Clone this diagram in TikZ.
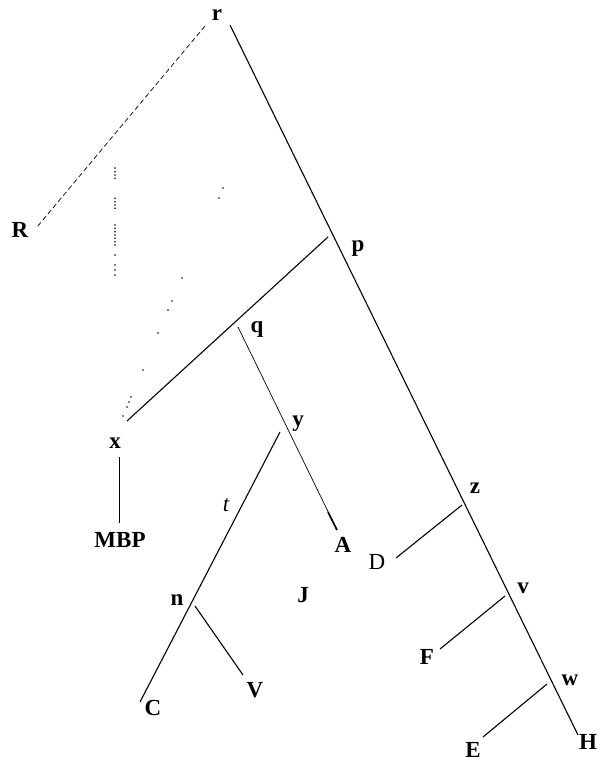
\documentclass[tikz,border=0pt]{standalone}
\usepackage{fontspec}
\setmainfont{Liberation Serif}
\begin{document}
\begin{tikzpicture}[x=1pt,y=-1pt,
  lbl/.style={font=\fontsize{23}{26}\selectfont\bfseries, inner sep=0pt},
  lblr/.style={font=\fontsize{23}{26}\selectfont, inner sep=0pt},
  lbli/.style={font=\fontsize{23}{26}\selectfont\itshape, inner sep=0pt},
  edge/.style={line width=1.1pt},
  vedge/.style={line width=0.9pt},
  thinedge/.style={line width=0.7pt},
  dashedge/.style={line width=0.7pt, dash pattern=on 5pt off 3pt},
  dotmark/.style={circle, fill=black, inner sep=0pt, minimum size=1.8pt}]
\path[use as bounding box] (0,0) rectangle (600,762);

% labels
\node[lbl] (r) at (217,15) {r};
\node[lbl] (R) at (20,230) {R};
\node[lbl] (p) at (358,249) {p};
\node[lbl] (q) at (257,329) {q};
\node[lbl] (x) at (115,443) {x};
\node[lbl] (y) at (298,424) {y};
\node[lbli] (t) at (226,505) {t};
\node[lbl] (n) at (177,600) {n};
\node[lbl] (V) at (255,690) {V};
\node[lbl] (C) at (153,708) {C};
\node[lbl] (J) at (303,595) {J};
\node[lbl] (A) at (343,545) {A};
\node[lblr] (D) at (377,562) {D};
\node[lbl] (MBP) at (120,540) {MBP};
\node[lbl] (z) at (475,488) {z};
\node[lbl] (v) at (523,588) {v};
\node[lbl] (F) at (427,657) {F};
\node[lbl] (w) at (570,680) {w};
\node[lbl] (E) at (473,750) {E};
\node[lbl] (H) at (588,742) {H};

% line end points
\coordinate (rtop) at (230,25);
\coordinate (Hend) at (578,735);
\coordinate (rleft) at (205,26);
\coordinate (Rend) at (37,227);
\coordinate (ptop) at (328,237);
\coordinate (xend) at (127,421);
\coordinate (qtop) at (238,327);
\coordinate (Athick) at (328,512);
\coordinate (Aend) at (337,530);
\coordinate (ytop) at (280,432);
\coordinate (Cend) at (140,702);
\coordinate (ntop) at (195,606);
\coordinate (Vend) at (243,675);
\coordinate (xtop) at (119,457);
\coordinate (MBPend) at (119,523);
\coordinate (ztop) at (462,505);
\coordinate (Dend) at (396,558);
\coordinate (vtop) at (505,596);
\coordinate (Fend) at (440,649);
\coordinate (wtop) at (547,684);
\coordinate (Eend) at (483,737);

% connectors
\draw[edge] (rtop) -- (Hend);
\draw[dashedge] (rleft) -- (Rend);
\draw[edge] (ptop) -- (xend);
\draw[thinedge] (qtop) -- (Aend);
\draw[line width=1.6pt] (Athick) -- (Aend);
\draw[edge] (ytop) -- (Cend);
\draw[edge] (ntop) -- (Vend);
\draw[vedge] (xtop) -- (MBPend);
\draw[edge] (ztop) -- (Dend);
\draw[edge] (vtop) -- (Fend);
\draw[edge] (wtop) -- (Eend);

% dotted traces
\foreach \yy in {168,171.7,175,178.3,198.3,201.7,205,208.3,225,228.3,231.7,235,238.3,241.7,245,255,265,270,275}
  \node[dotmark] at (115,\yy) {};
\foreach \xx/\yy in {223/188,219/198,182/278,172/301,168/310,158/333,143/370,131/397,129/402,127/407,123/416}
  \node[dotmark] at (\xx,\yy) {};
\end{tikzpicture}
\end{document}
